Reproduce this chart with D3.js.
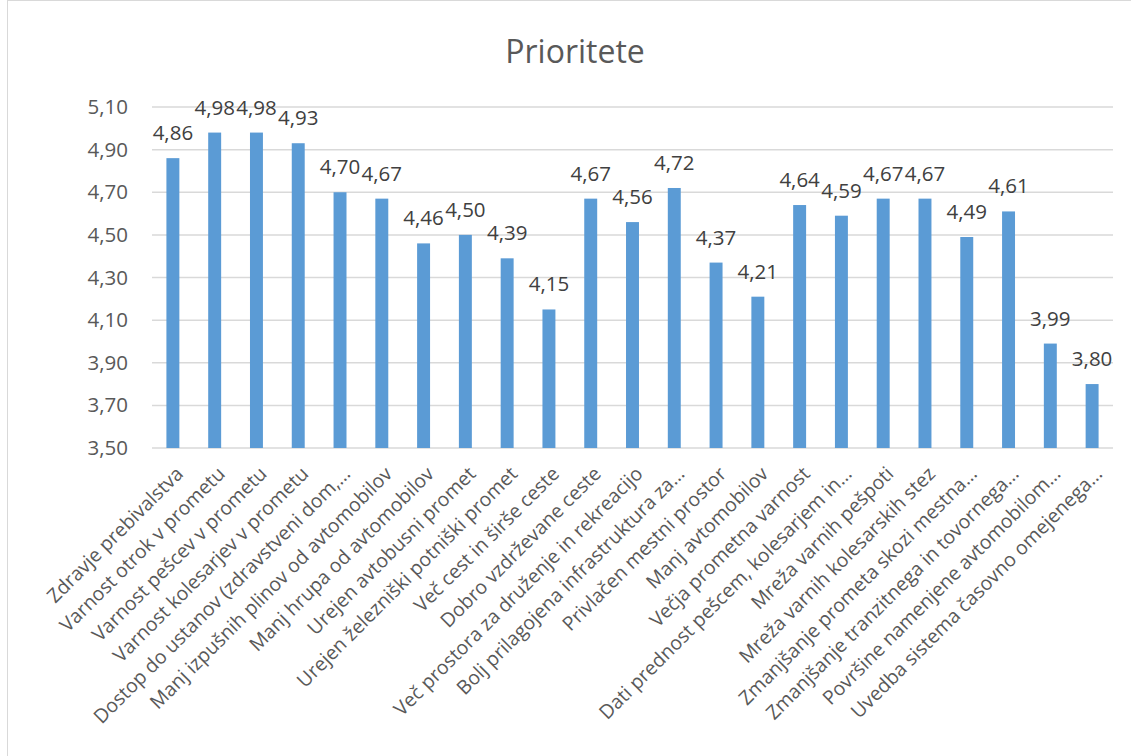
<!DOCTYPE html>
<html>
<head>
<meta charset="utf-8">
<script src="https://cdn.jsdelivr.net/npm/d3@7"></script>
<style>
  body { margin: 0; background: #fff; }
  svg { display: block; font-family: "Open Sans", "Liberation Sans", sans-serif; }
</style>
</head>
<body>
<div id="chart"></div>
<script>
// chart data
var categories = [
  "Zdravje prebivalstva",
  "Varnost otrok v prometu",
  "Varnost pešcev v prometu",
  "Varnost kolesarjev v prometu",
  "Dostop do ustanov (zdravstveni dom,…",
  "Manj izpušnih plinov od avtomobilov",
  "Manj hrupa od avtomobilov",
  "Urejen avtobusni promet",
  "Urejen železniški potniški promet",
  "Več cest in širše ceste",
  "Dobro vzdrževane ceste",
  "Več prostora za druženje in rekreacijo",
  "Bolj prilagojena infrastruktura  za…",
  "Privlačen mestni prostor",
  "Manj avtomobilov",
  "Večja prometna varnost",
  "Dati prednost pešcem, kolesarjem in…",
  "Mreža varnih pešpoti",
  "Mreža varnih kolesarskih stez",
  "Zmanjšanje prometa skozi mestna…",
  "Zmanjšanje tranzitnega in tovornega…",
  "Površine namenjene avtomobilom…",
  "Uvedba sistema časovno omejenega…"
];
var values = [4.86, 4.98, 4.98, 4.93, 4.70, 4.67, 4.46, 4.50, 4.39, 4.15, 4.67, 4.56,
  4.72, 4.37, 4.21, 4.64, 4.59, 4.67, 4.67, 4.49, 4.61, 3.99, 3.80];
var yTicks = [3.5, 3.7, 3.9, 4.1, 4.3, 4.5, 4.7, 4.9, 5.1];
var title = "Prioritete";

var width = 1131, height = 756;
var margin = { top: 107, right: 18, bottom: 308, left: 152 };
var fmt = function (v) { return d3.format(".2f")(v).replace(".", ","); };

var svg = d3.select("#chart").append("svg")
  .attr("width", width)
  .attr("height", height);

// outer frame
svg.append("rect")
  .attr("x", 7.5).attr("y", 0.5)
  .attr("width", width + 10).attr("height", height + 10)
  .attr("fill", "#fff")
  .attr("stroke", "#d9d9d9");

svg.append("text")
  .attr("x", 575).attr("y", 63)
  .attr("text-anchor", "middle")
  .attr("font-size", 32)
  .attr("fill", "#595959")
  .text(title);

var plotW = width - margin.left - margin.right;
var plotH = height - margin.top - margin.bottom;

var x = d3.scaleBand().domain(categories).range([0, plotW]).paddingInner(0.69).paddingOuter(0.345);
var y = d3.scaleLinear().domain([3.5, 5.1]).range([plotH, 0]);

var g = svg.append("g").attr("transform", "translate(" + margin.left + "," + margin.top + ")");

// gridlines
g.append("g")
  .selectAll("line")
  .data(yTicks)
  .join("line")
  .attr("x1", 0).attr("x2", plotW)
  .attr("y1", function (d) { return y(d); })
  .attr("y2", function (d) { return y(d); })
  .attr("stroke", "#d9d9d9")
  .attr("stroke-width", 1.5);

// y axis
var yAxis = g.append("g")
  .call(d3.axisLeft(y).tickValues(yTicks).tickFormat(fmt).tickSize(0).tickPadding(24));
yAxis.select(".domain").remove();
yAxis.selectAll("text")
  .attr("font-size", 20.5)
  .attr("fill", "#595959")
  .attr("font-family", "Open Sans, sans-serif");

// bars
g.selectAll("rect.bar")
  .data(values)
  .join("rect")
  .attr("class", "bar")
  .attr("x", function (d, i) { return x(categories[i]); })
  .attr("y", function (d) { return y(d); })
  .attr("width", x.bandwidth())
  .attr("height", function (d) { return plotH - y(d); })
  .attr("fill", "#5b9bd5");

// value labels
g.selectAll("text.val")
  .data(values)
  .join("text")
  .attr("class", "val")
  .attr("x", function (d, i) { return x(categories[i]) + x.bandwidth() / 2; })
  .attr("y", function (d) { return y(d) - 18; })
  .attr("text-anchor", "middle")
  .attr("font-size", 20.5)
  .attr("fill", "#404040")
  .text(fmt);

// x axis
var xAxis = g.append("g")
  .attr("transform", "translate(0," + plotH + ")")
  .call(d3.axisBottom(x).tickSize(0).tickPadding(0));
xAxis.select(".domain").remove();
xAxis.selectAll("text")
  .attr("font-size", 19.5)
  .attr("fill", "#595959")
  .attr("font-family", "Open Sans, sans-serif")
  .attr("text-anchor", "end")
  .attr("dy", 0)
  .attr("transform", "translate(" + (x.bandwidth() / 2 + 5) + ",27) rotate(-45)");
</script>
</body>
</html>
